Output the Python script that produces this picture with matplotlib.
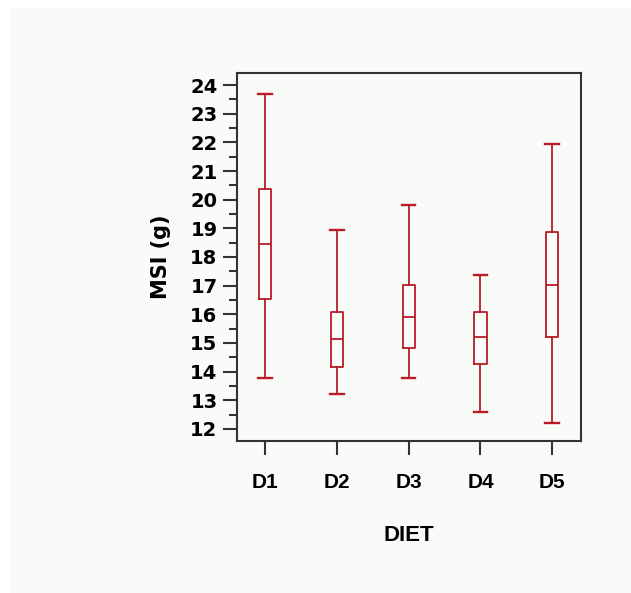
import matplotlib
matplotlib.use("Agg")
import matplotlib.pyplot as plt
from matplotlib.patches import Rectangle
from matplotlib.ticker import MultipleLocator

categories = ["D1", "D2", "D3", "D4", "D5"]
whisker_low = [13.78, 13.22, 13.78, 12.58, 12.21]
q1 = [16.52, 14.15, 14.83, 14.27, 15.20]
median = [18.46, 15.14, 15.90, 15.20, 17.02]
q3 = [20.38, 16.08, 17.02, 16.08, 18.86]
whisker_high = [23.70, 18.93, 19.81, 17.38, 21.93]
y_ticks = list(range(12, 25))

RED = "#b81c28"
BG = "#f8fbf7"
fig = plt.figure(figsize=(6.31, 5.93), dpi=100)
fig.patch.set_facecolor("white")
fig.patches.append(Rectangle((11 / 631, 0), 1, 1 - 8 / 593, transform=fig.transFigure,
                             facecolor=BG, edgecolor="none", zorder=-10))

ax = fig.add_axes([237 / 631, (593 - 441) / 593, (581 - 237) / 631, (441 - 73) / 593])
ax.set_facecolor(BG)

stats = []
for i, c in enumerate(categories):
    stats.append(dict(label=c, whislo=whisker_low[i], q1=q1[i], med=median[i],
                      q3=q3[i], whishi=whisker_high[i], fliers=[]))

lw = 1.3
ax.bxp(stats, positions=range(1, len(categories) + 1), widths=0.17, capwidths=0.19,
       showfliers=False,
       boxprops=dict(color=RED, linewidth=lw),
       medianprops=dict(color=RED, linewidth=lw),
       whiskerprops=dict(color=RED, linewidth=lw),
       capprops=dict(color=RED, linewidth=lw + 0.4))

ax.set_xlim(0.61, 5.40)
ax.set_ylim(11.58, 24.42)
ax.set_yticks(y_ticks)
ax.set_yticklabels([str(t) for t in y_ticks], fontfamily="DejaVu Sans",
                   fontweight="bold", fontsize=14)
ax.yaxis.set_minor_locator(MultipleLocator(0.5))
ax.set_xticks(range(1, len(categories) + 1))
ax.set_xticklabels(categories, fontfamily="Liberation Sans", fontweight="bold", fontsize=15)

for s in ax.spines.values():
    s.set_color("#333333")
    s.set_linewidth(1.5)
ax.tick_params(axis="y", which="major", direction="out", length=10, width=1.5,
               color="#333333", pad=4)
ax.tick_params(axis="y", which="minor", direction="out", length=6, width=1.5,
               color="#333333")
ax.tick_params(axis="x", which="major", direction="out", length=10, width=1.5,
               color="#333333", pad=13)

ax.set_xlabel("DIET", fontfamily="Liberation Sans", fontweight="bold", fontsize=16,
              labelpad=24)
ax.set_ylabel("MSI (g)", fontfamily="DejaVu Sans", fontweight="bold", fontsize=15,
              labelpad=14)

fig.savefig("out.png", dpi=100, facecolor=fig.get_facecolor())
